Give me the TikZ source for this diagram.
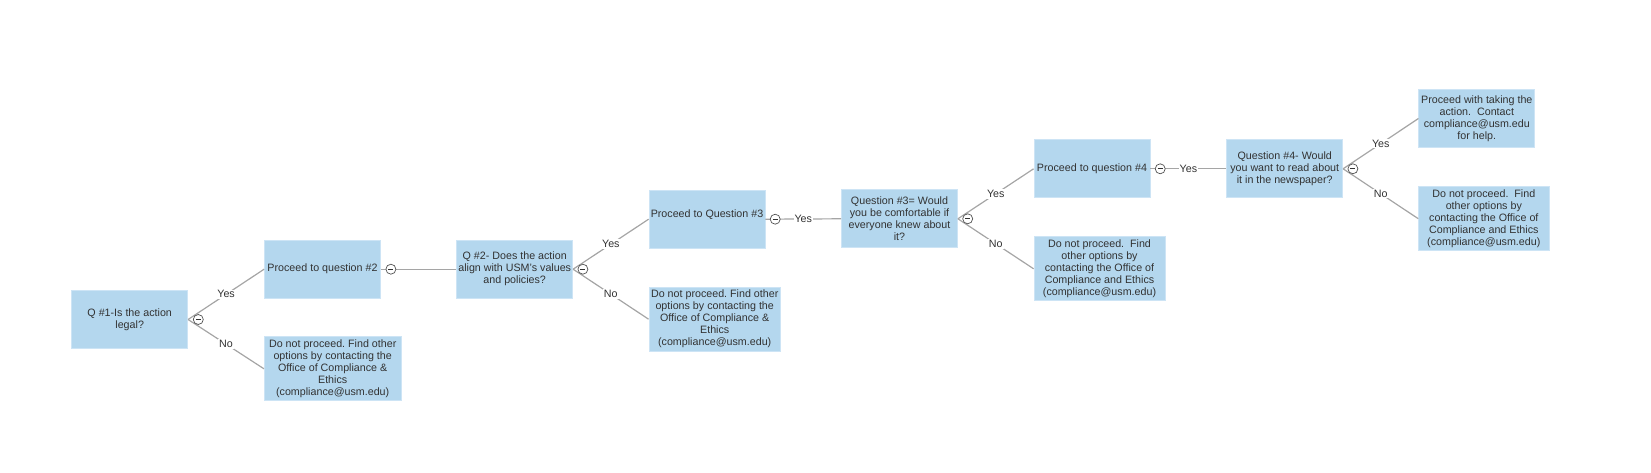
\documentclass[tikz,border=0pt]{standalone}
\usepackage{fontspec}
\setmainfont{Liberation Sans}
\frenchspacing
\definecolor{boxblue}{RGB}{180,215,238}
\definecolor{boxedge}{RGB}{205,228,245}
\definecolor{linegray}{RGB}{165,165,165}
\definecolor{textgray}{RGB}{50,50,50}

\begin{document}
\begin{tikzpicture}[x=1pt, y=-1pt,
    box/.style={rectangle, fill=boxblue, draw=boxedge, line width=0.8pt, align=center, text=textgray,
        font=\fontsize{10.7}{12}\selectfont, inner xsep=1pt, inner ysep=1pt, minimum width=116pt, minimum height=58pt},
    nobox/.style={box, minimum height=64pt},
    edge/.style={draw=linegray, line width=1.2pt},
    answer/.style={midway, fill=white, inner sep=1pt, text=textgray, font=\fontsize{10.7}{12}\selectfont},
    toggle/.style={circle, draw=textgray!85, fill=white, line width=0.7pt, minimum size=10pt, inner sep=0pt,
        path picture={\draw[textgray, line width=0.7pt] ([xshift=-2.5pt]path picture bounding box.center) -- ([xshift=2.5pt]path picture bounding box.center);}}
]
    \useasboundingbox (0,0) rectangle (1651,473);

    % Define nodes for the questions
    \node[box] (Q1) at (129.7, 319.5) {Q \#1-Is the action\\legal?};
    \node[box] (Q2) at (514.7, 269.2) {Q \#2- Does the action\\align with USM's values\\and policies?};
    \node[box] (Q3) at (899.5, 218.8) {Question \#3= Would\\you be comfortable if\\everyone knew about\\it?};
    \node[box] (Q4) at (1284.7, 168.8) {Question \#4- Would\\you want to read about\\it in the newspaper?};

    % Define nodes for the yes answers
    \node[box] (P2) at (322.5, 269.2) {Proceed to question \#2};
    \node[box] (P3) at (707, 219.2) {Proceed to Question \#3\\\mbox{}};
    \node[box] (P4) at (1092, 168.8) {Proceed to question \#4};
    \node[box] (P5) at (1476.8, 118.5) {Proceed with taking the\\action.\ \ Contact\\compliance@usm.edu\\for help.};

    % Define nodes for the no answers
    \node[nobox, minimum width=136.7pt] (N1) at (332.7, 368.8) {Do not proceed. Find other\\options by contacting the\\Office of Compliance \&\\Ethics\\(compliance@usm.edu)};
    \node[nobox, minimum width=131.5pt] (N2) at (714.7, 319.2) {Do not proceed. Find other\\options by contacting the\\Office of Compliance \&\\Ethics\\(compliance@usm.edu)};
    \node[nobox, minimum width=131pt] (N3) at (1099.5, 268.8) {Do not proceed.\ \ Find\\other options by\\contacting the Office of\\Compliance and Ethics\\(compliance@usm.edu)};
    \node[nobox, minimum width=130.3pt] (N4) at (1483.8, 218.7) {Do not proceed.\ \ Find\\other options by\\contacting the Office of\\Compliance and Ethics\\(compliance@usm.edu)};

    % Draw edges
    \draw[edge] (Q1.east) -- (P2.west) node[answer] {Yes};
    \draw[edge] (Q1.east) -- (N1.west) node[answer] {No};
    \draw[edge] (P2.east) -- (Q2.west);
    \draw[edge] (Q2.east) -- (P3.west) node[answer] {Yes};
    \draw[edge] (Q2.east) -- (N2.west) node[answer] {No};
    \draw[edge] (P3.east) -- (Q3.west) node[answer] {Yes};
    \draw[edge] (Q3.east) -- (P4.west) node[answer] {Yes};
    \draw[edge] (Q3.east) -- (N3.west) node[answer] {No};
    \draw[edge] (P4.east) -- (Q4.west) node[answer] {Yes};
    \draw[edge] (Q4.east) -- (P5.west) node[answer] {Yes};
    \draw[edge] (Q4.east) -- (N4.west) node[answer] {No};

    % Collapse buttons
    \node[toggle] (T1) at (198.3, 319.5) {};
    \node[toggle] (T2) at (390.9, 269.2) {};
    \node[toggle] (T3) at (582.9, 269.2) {};
    \node[toggle] (T4) at (775.2, 219.2) {};
    \node[toggle] (T5) at (967.7, 218.8) {};
    \node[toggle] (T6) at (1160.2, 168.8) {};
    \node[toggle] (T7) at (1352.9, 168.8) {};

\end{tikzpicture}
\end{document}
